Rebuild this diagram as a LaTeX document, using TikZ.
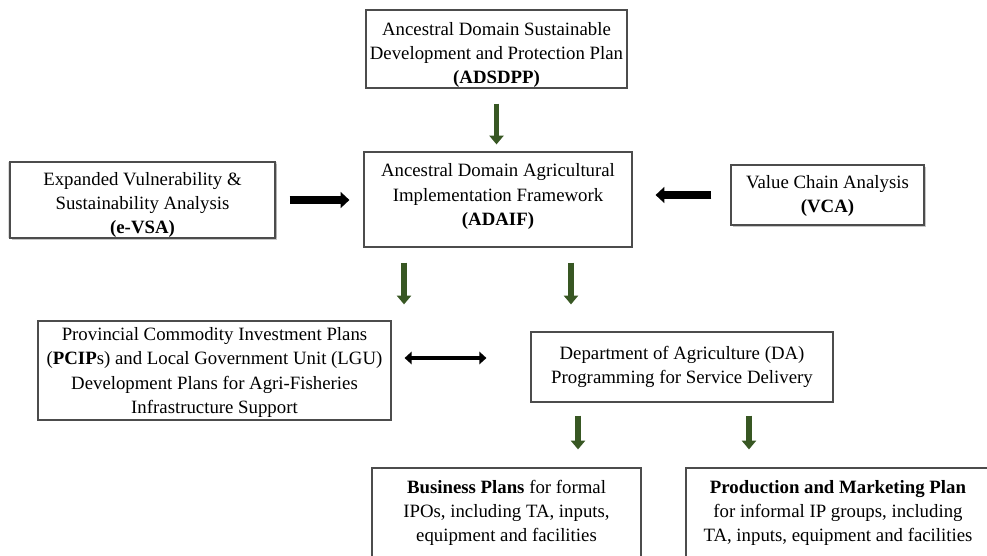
\documentclass[tikz,border=0pt]{standalone}
\usepackage{fontspec}
\setmainfont{Liberation Serif}
\usetikzlibrary{arrows.meta,shadows}
\definecolor{arrowgreen}{RGB}{56,87,35}

\begin{document}
\begin{tikzpicture}[x=0.02cm,y=-0.02cm,
  box/.style={draw=black!70,line width=0.7pt,fill=white},
  txt/.style={align=center,inner sep=0pt,font=\fontsize{10.7}{13.7}\selectfont},
  glow/.style={box,general shadow={shadow scale=1.012,fill=black!40,opacity=.35},
    drop shadow={shadow xshift=1.2pt,shadow yshift=-1.2pt,fill=black!50,opacity=.45}},
  garrow/.style={-{Triangle[length=5pt,width=8pt]},line width=3.2pt,color=arrowgreen},
  barrow/.style={-{Triangle[length=5pt,width=9pt]},line width=4pt},
  darrow/.style={{Triangle[length=4pt,width=7pt]}-{Triangle[length=4pt,width=7pt]},line width=2.4pt}]
  \useasboundingbox (0,0) rectangle (987,555);
  \node[box,minimum width=5.22cm,minimum height=1.56cm,
    label={[txt,yshift=-0.12cm]center:{Ancestral Domain Sustainable\\ Development and Protection Plan\\ \textbf{(ADSDPP)}}}]
    (adsdpp) at (496.5,49) {};
  \node[box,minimum width=5.36cm,minimum height=1.90cm,
    label={[txt,yshift=0.06cm]center:{Ancestral Domain Agricultural\\ Implementation Framework\\ \textbf{(ADAIF)}}}]
    (adaif) at (498,199.5) {};
  \node[glow,minimum width=5.30cm,minimum height=1.52cm,
    label={[txt,yshift=-0.1cm]center:{Expanded Vulnerability \&\\ Sustainability Analysis\\ \textbf{(e-VSA)}}}]
    (evsa) at (142.5,200) {};
  \node[glow,minimum width=3.86cm,minimum height=1.20cm,
    label={[txt,yshift=-0.02cm]center:{Value Chain Analysis\\ \textbf{(VCA)}}}]
    (vca) at (827.5,195) {};
  \node[box,minimum width=7.06cm,minimum height=1.98cm,
    label={[txt,yshift=-0.04cm]center:{Provincial Commodity Investment Plans\\ (\textbf{PCIP}s) and Local Government Unit (LGU)\\
     Development Plans for Agri-Fisheries\\ Infrastructure Support}}]
    (pcip) at (214.5,370.5) {};
  \node[box,minimum width=6.04cm,minimum height=1.40cm,
    label={[txt]center:{Department of Agriculture (DA)\\ Programming for Service Delivery}}]
    (da) at (682,367) {};
  \node[box,minimum width=5.38cm,minimum height=1.84cm,
    label={[txt,yshift=0.02cm]center:{\textbf{Business Plans} for formal\\ IPOs, including TA, inputs,\\ equipment and facilities}}]
    (bp) at (506.5,514) {};
  \node[box,minimum width=6.08cm,minimum height=1.84cm,
    label={[txt,yshift=0.02cm]center:{\textbf{Production and Marketing Plan}\\ for informal IP groups, including\\ TA, inputs, equipment and facilities}}]
    (pmp) at (838,514) {};

  % helper points for the arrows
  \coordinate (a1) at ([xshift=-1.88cm]adaif.south);
  \coordinate (a2) at ([xshift=1.46cm]adaif.south);
  \coordinate (d1) at ([xshift=-2.08cm]da.south);
  \coordinate (d2) at ([xshift=1.34cm]da.south);
  \coordinate (m) at ([yshift=0.25cm]pcip.east);

  \path[garrow] (adsdpp.south) edge[shorten <=0.3cm,shorten >=0.14cm] (adsdpp.south |- adaif.north);
  \path[barrow] (evsa.east) edge[shorten <=0.28cm,shorten >=0.28cm] (evsa.east -| adaif.west);
  \path[barrow] (vca.west) edge[shorten <=0.38cm,shorten >=0.46cm] (vca.west -| adaif.east);
  \path[garrow] (a1) edge[shorten <=0.3cm,shorten >=0.32cm] (a1 |- pcip.north);
  \path[garrow] (a2) edge[shorten <=0.3cm,shorten >=0.32cm] (a2 |- pcip.north);
  \path[darrow] (m) edge[shorten <=0.26cm,shorten >=0.88cm] (m -| da.west);
  \path[garrow] (d1) edge[shorten <=0.26cm,shorten >=0.36cm] (d1 |- bp.north);
  \path[garrow] (d2) edge[shorten <=0.26cm,shorten >=0.36cm] (d2 |- bp.north);
\end{tikzpicture}
\end{document}
